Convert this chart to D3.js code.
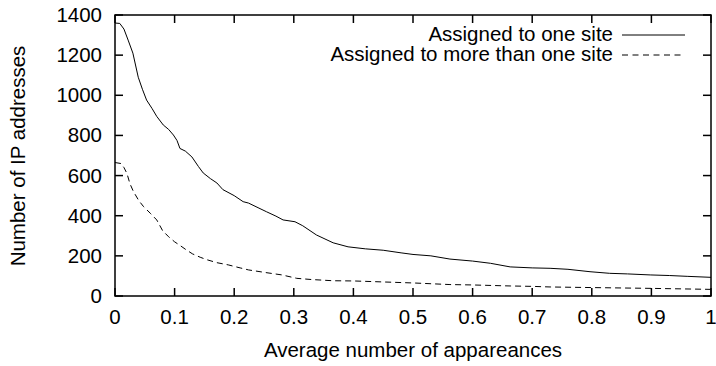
<!DOCTYPE html>
<html>
<head>
<meta charset="utf-8">
<script src="https://cdn.jsdelivr.net/npm/d3@7"></script>
<style>
  body { margin: 0; background: #fff; }
  svg { display: block; }
  text { font-family: "Liberation Sans", Arial, sans-serif; font-size: 20.5px; fill: #000; }
</style>
</head>
<body>
<svg id="chart" width="716" height="366"></svg>
<script>
// average number of appearances vs. number of IP addresses
let oneX = [0, 0.008, 0.015, 0.022, 0.03, 0.039, 0.046, 0.053, 0.062, 0.07, 0.081, 0.09, 0.098, 0.104, 0.109,
            0.118, 0.129, 0.14, 0.148, 0.16, 0.171, 0.181, 0.2, 0.215, 0.224, 0.24, 0.254, 0.27, 0.282, 0.302,
            0.315, 0.338, 0.366, 0.391, 0.42, 0.45, 0.48, 0.5, 0.53, 0.562, 0.6, 0.63, 0.663, 0.7, 0.73, 0.76,
            0.797, 0.83, 0.86, 0.898, 0.93, 0.96, 1.0];
let oneY = [1360, 1358, 1330, 1275, 1210, 1090, 1030, 976, 935, 895, 852, 830, 802, 775, 735,
            722, 693, 645, 613, 585, 563, 530, 500, 470, 463, 440, 420, 398, 379, 370,
            350, 304, 265, 245, 235, 228, 215, 207, 200, 184, 174, 163, 145, 140, 138, 133,
            121, 113, 110, 105, 102, 98, 93];

let multiX = [0, 0.01, 0.015, 0.02, 0.025, 0.031, 0.04, 0.048, 0.06, 0.07, 0.08, 0.09, 0.1, 0.11, 0.12,
              0.13, 0.143, 0.155, 0.171, 0.19, 0.21, 0.224, 0.25, 0.28, 0.305, 0.33, 0.366, 0.4, 0.45, 0.5,
              0.562, 0.6, 0.663, 0.7, 0.73, 0.8, 0.9, 1.0];
let multiY = [665, 660, 640, 611, 560, 520, 475, 445, 410, 379, 325, 295, 270, 250, 229,
              210, 193, 180, 166, 155, 140, 130, 118, 105, 88, 82, 76, 75, 70, 65,
              57, 55, 50, 48, 45, 42, 38, 33];

let xTicks = [0, 0.1, 0.2, 0.3, 0.4, 0.5, 0.6, 0.7, 0.8, 0.9, 1];
let yTicks = [0, 200, 400, 600, 800, 1000, 1200, 1400];
let seriesNames = ["Assigned to one site", "Assigned to more than one site"];

let plotL = 115, plotR = 711, plotT = 15, plotB = 296;

let svg = d3.select("#chart");
let x = d3.scaleLinear().domain([0, 1]).range([plotL, plotR]);
let y = d3.scaleLinear().domain([0, 1400]).range([plotB, plotT]);

function label(g, tx, ty, str, anchor, rot) {
    g.append("text")
        .attr("transform", "translate(" + tx + "," + ty + ")" + (rot ? " rotate(" + rot + ")" : ""))
        .attr("text-anchor", anchor)
        .text(str);
}

// ticks on all four sides, pointing inward
let tickLen = 8;
let axes = svg.append("g").attr("stroke", "#000").attr("stroke-width", 1.5);
xTicks.forEach(function(t) {
    axes.append("line").attr("x1", x(t)).attr("x2", x(t)).attr("y1", plotB).attr("y2", plotB - tickLen);
    axes.append("line").attr("x1", x(t)).attr("x2", x(t)).attr("y1", plotT).attr("y2", plotT + tickLen);
});
yTicks.forEach(function(t) {
    axes.append("line").attr("x1", plotL).attr("x2", plotL + tickLen).attr("y1", y(t)).attr("y2", y(t));
    axes.append("line").attr("x1", plotR).attr("x2", plotR - tickLen).attr("y1", y(t)).attr("y2", y(t));
});

let txt = svg.append("g");
xTicks.forEach(function(t) { label(txt, x(t), plotB + 28, d3.format("")(t), "middle"); });
yTicks.forEach(function(t) { label(txt, plotL - 13, y(t) + 7, String(t), "end"); });
label(txt, (plotL + plotR) / 2, 357, "Average number of appareances", "middle");
label(txt, 25, 156, "Number of IP addresses", "middle", -90);

let line = d3.line().x(function(d) { return x(d[0]); }).y(function(d) { return y(d[1]); });

svg.append("path")
    .datum(d3.zip(oneX, oneY))
    .attr("d", line)
    .attr("fill", "none").attr("stroke", "#000").attr("stroke-width", 1);

svg.append("path")
    .datum(d3.zip(multiX, multiY))
    .attr("d", line)
    .attr("fill", "none").attr("stroke", "#000").attr("stroke-width", 1)
    .attr("stroke-dasharray", "6,4");

svg.append("rect")
    .attr("x", plotL).attr("y", plotT).attr("width", plotR - plotL).attr("height", plotB - plotT)
    .attr("fill", "none").attr("stroke", "#000").attr("stroke-width", 1.5);

// key
let key = svg.append("g");
seriesNames.forEach(function(name, i) {
    let ky = 35 + i * 20;
    label(key, 613, ky + 6, name, "end");
    key.append("line")
        .attr("x1", 622).attr("x2", 685).attr("y1", ky).attr("y2", ky)
        .attr("stroke", "#000").attr("stroke-width", 1)
        .attr("stroke-dasharray", i ? "6,4.5" : null);
});
</script>
</body>
</html>
